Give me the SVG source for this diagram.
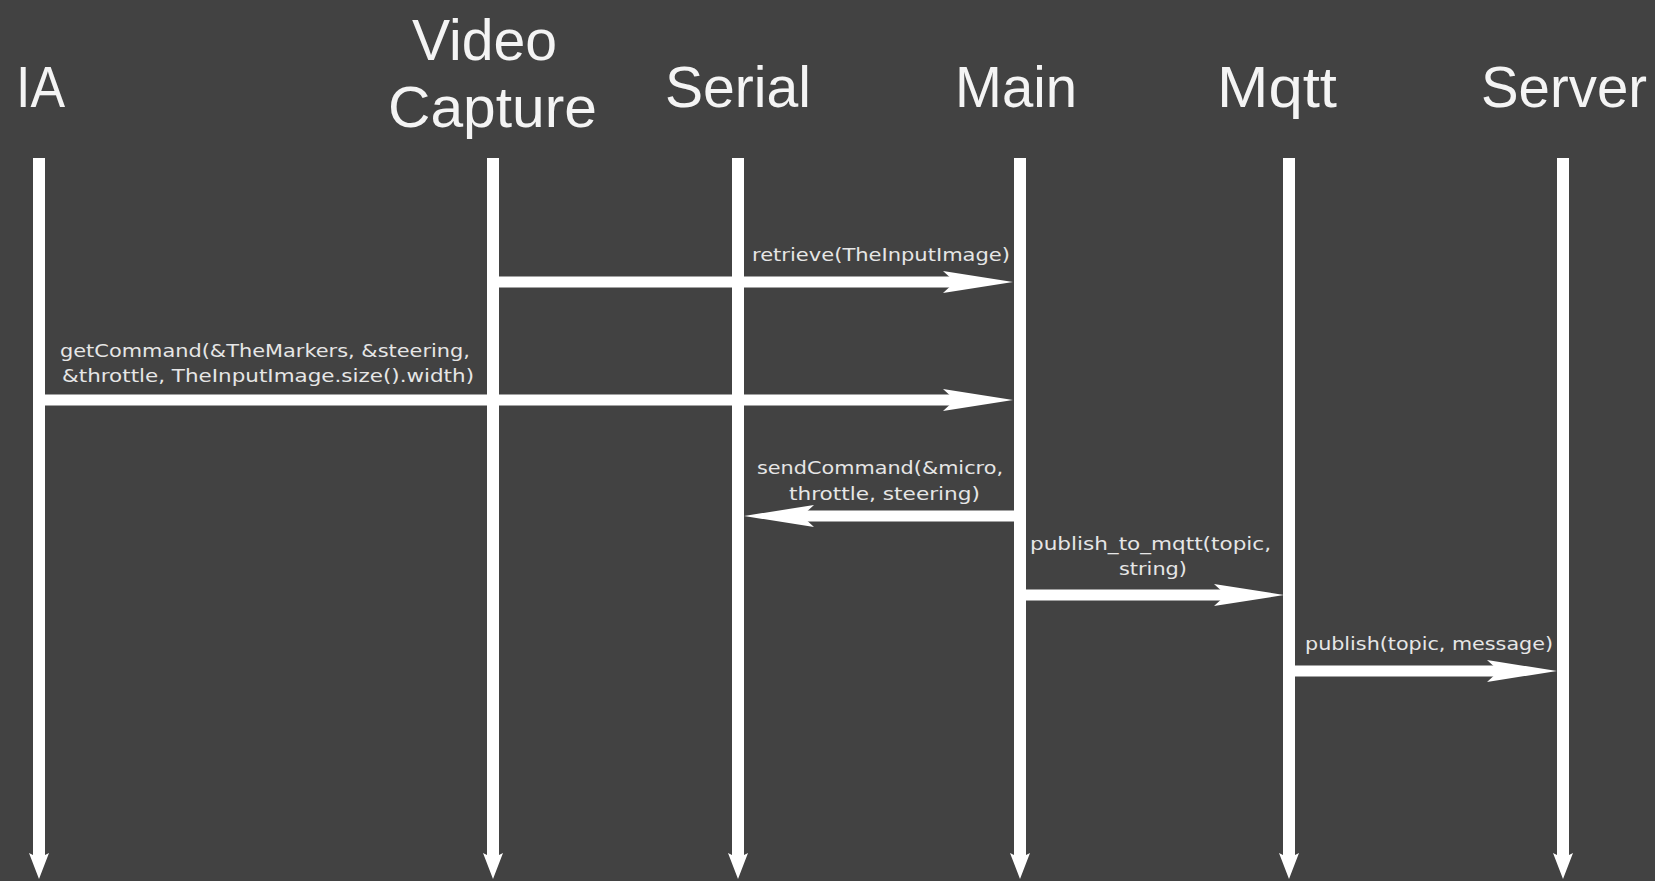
<svg xmlns="http://www.w3.org/2000/svg" width="1655" height="881" viewBox="0 0 1655 881">
<style>
.bg{fill:#424242}
.hdr{font-family:"Liberation Sans","DejaVu Sans",sans-serif;font-size:57px;fill:#f4f4f4}
.lbl{font-family:"DejaVu Sans","Liberation Sans",sans-serif;font-size:17px;fill:#e6e6e6}
.life{stroke:#ffffff;stroke-width:12;fill:none}
.msg{stroke:#ffffff;stroke-width:11;fill:none}
</style>
<defs>
<marker id="vh" viewBox="-6 -12 30 24" markerWidth="30" markerHeight="24" refX="0" refY="0" orient="auto" markerUnits="userSpaceOnUse">
<path d="M21,0 L-5,-10 L0,0 L-5,10 Z" fill="#ffffff"/>
</marker>
<marker id="hh" viewBox="-20 -13 80 26" markerWidth="80" markerHeight="26" refX="0" refY="0" orient="auto" markerUnits="userSpaceOnUse">
<path d="M55,0 L-15,-11 L-3,0 L-15,11 Z" fill="#ffffff"/>
</marker>
</defs>
<rect class="bg" x="0" y="0" width="1655" height="881"/>

<g id="node-ia">
<text class="hdr" x="16" y="107" textLength="49" lengthAdjust="spacingAndGlyphs">IA</text>
<line class="life" x1="39" y1="158" x2="39" y2="858" marker-end="url(#vh)"/>
</g>
<g id="node-videocapture">
<text class="hdr" x="412" y="60" textLength="145" lengthAdjust="spacingAndGlyphs">Video</text>
<text class="hdr" x="388" y="127" textLength="209" lengthAdjust="spacingAndGlyphs">Capture</text>
<line class="life" x1="493" y1="158" x2="493" y2="858" marker-end="url(#vh)"/>
</g>
<g id="node-serial">
<text class="hdr" x="665" y="107" textLength="146" lengthAdjust="spacingAndGlyphs">Serial</text>
<line class="life" x1="738" y1="158" x2="738" y2="858" marker-end="url(#vh)"/>
</g>
<g id="node-main">
<text class="hdr" x="955" y="107" textLength="122" lengthAdjust="spacingAndGlyphs">Main</text>
<line class="life" x1="1020" y1="158" x2="1020" y2="858" marker-end="url(#vh)"/>
</g>
<g id="node-mqtt">
<text class="hdr" x="1217" y="107" textLength="120" lengthAdjust="spacingAndGlyphs">Mqtt</text>
<line class="life" x1="1289" y1="158" x2="1289" y2="858" marker-end="url(#vh)"/>
</g>
<g id="node-server">
<text class="hdr" x="1481" y="107" textLength="166" lengthAdjust="spacingAndGlyphs">Server</text>
<line class="life" x1="1563" y1="158" x2="1563" y2="858" marker-end="url(#vh)"/>
</g>

<g id="connectors">
<line class="msg" x1="493" y1="282" x2="958" y2="282" marker-end="url(#hh)"/>
<text class="lbl" x="752" y="261" textLength="258" lengthAdjust="spacingAndGlyphs">retrieve(TheInputImage)</text>

<line class="msg" x1="39" y1="400" x2="958" y2="400" marker-end="url(#hh)"/>
<text class="lbl" x="60" y="357" textLength="410" lengthAdjust="spacingAndGlyphs">getCommand(&amp;TheMarkers, &amp;steering,</text>
<text class="lbl" x="62" y="382" textLength="412" lengthAdjust="spacingAndGlyphs">&amp;throttle, TheInputImage.size().width)</text>

<line class="msg" x1="1020" y1="516" x2="799" y2="516" marker-end="url(#hh)"/>
<text class="lbl" x="757" y="474" textLength="246" lengthAdjust="spacingAndGlyphs">sendCommand(&amp;micro,</text>
<text class="lbl" x="789" y="500" textLength="191" lengthAdjust="spacingAndGlyphs">throttle, steering)</text>

<line class="msg" x1="1020" y1="595" x2="1229" y2="595" marker-end="url(#hh)"/>
<text class="lbl" x="1030" y="550" textLength="241" lengthAdjust="spacingAndGlyphs">publish_to_mqtt(topic,</text>
<text class="lbl" x="1119" y="575" textLength="68" lengthAdjust="spacingAndGlyphs">string)</text>

<line class="msg" x1="1289" y1="671" x2="1502" y2="671" marker-end="url(#hh)"/>
<text class="lbl" x="1305" y="650" textLength="248" lengthAdjust="spacingAndGlyphs">publish(topic, message)</text>
</g>
</svg>
